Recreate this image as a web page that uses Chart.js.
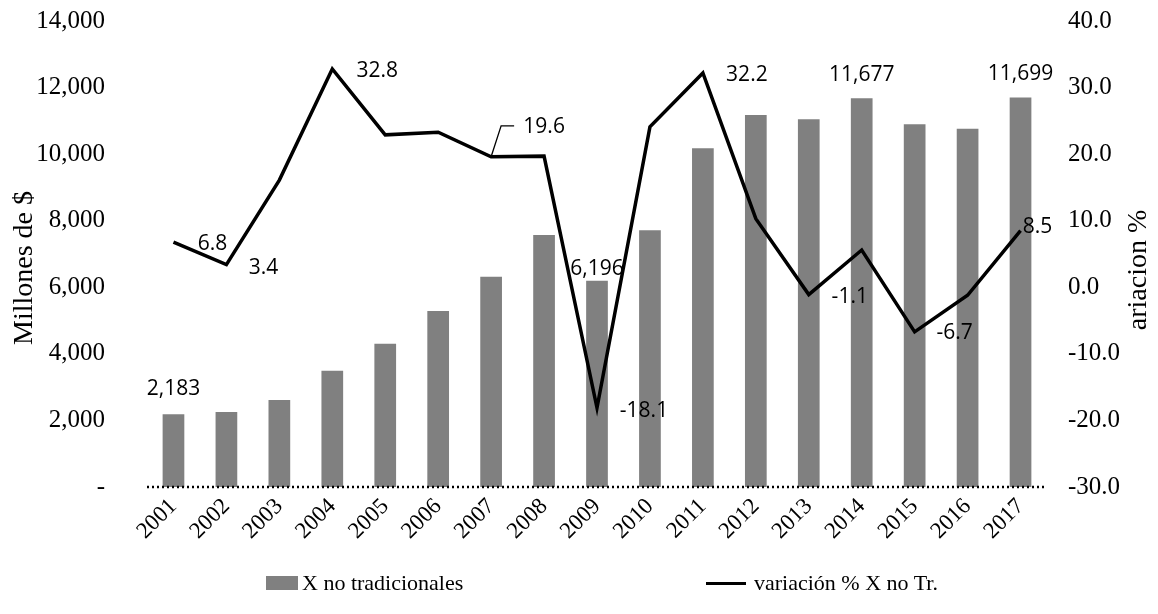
<!DOCTYPE html>
<html>
<head>
<meta charset="utf-8">
<script src="https://cdn.jsdelivr.net/npm/chart.js@4.4.1/dist/chart.umd.min.js"></script>
<style>
  body { margin: 0; background: #fff; }
  #wrap { position: relative; width: 1158px; height: 614px; }
  .leg { position: absolute; top: 570px; height: 26px; display: flex; align-items: center;
         font-family: "Liberation Serif", "Times New Roman", serif; font-size: 22px; color: #000; white-space: nowrap; }
  .box { width: 32px; height: 14px; background: #808080; margin-right: 4px; }
  .ln { width: 40px; height: 3px; background: #000; margin-right: 8px; }
</style>
</head>
<body>
<div id="wrap">
  <canvas id="chart" width="1158" height="614"></canvas>
  <div class="leg" style="left:266px"><span class="box"></span>X no tradicionales</div>
  <div class="leg" style="left:706px"><span class="ln"></span>variación % X no Tr.</div>
</div>
<script>
const years = ["2001","2002","2003","2004","2005","2006","2007","2008","2009",
               "2010","2011","2012","2013","2014","2015","2016","2017"];
const exportsNT = [2183, 2250, 2610, 3490, 4300, 5290, 6320, 7570, 6196,
                   7710, 10180, 11175, 11045, 11677, 10900, 10760, 11699];
const variation = [6.8, 3.4, 16.1, 32.8, 22.9, 23.3, 19.6, 19.7, -18.1,
                   24.1, 32.2, 10.3, -1.1, 5.6, -6.7, -1.2, 8.5];

// which points carry a value label
const barLabelIdx = [0, 8, 13, 16];
const lineLabelIdx = [0, 1, 3, 6, 8, 10, 12, 14, 16];

// label placement (pixels from the mark)
const barLabelOff = [[0, -25], [0, -12], [0, -23], [0, -24]];
const lineLabelOff = [[39, 2], [37, 3], [45, 2], [53, -30], [47, 3], [44, 2], [41, 2], [40, 1], [17, -4]];

const serif = '"Liberation Serif", "Times New Roman", serif';

const labelPlugin = {
    id: "valueLabels",
    afterDatasetsDraw(chart) {
        const ctx = chart.ctx;
        const area = chart.chartArea;
        const bars = chart.getDatasetMeta(0).data;
        const pts = chart.getDatasetMeta(1).data;

        ctx.save();

        // dotted zero line
        ctx.strokeStyle = "#000";
        ctx.lineWidth = 2.5;
        ctx.setLineDash([2, 3]);
        ctx.beginPath();
        ctx.moveTo(area.left, area.bottom);
        ctx.lineTo(area.right, area.bottom);
        ctx.stroke();
        ctx.setLineDash([]);

        ctx.font = '21px "Open Sans"';
        ctx.fillStyle = "#000";
        ctx.textAlign = "center";
        ctx.textBaseline = "middle";

        barLabelIdx.forEach((i, k) => {
            const el = bars[i];
            ctx.fillText(exportsNT[i].toLocaleString("en-US"), el.x + barLabelOff[k][0], el.y + barLabelOff[k][1]);
        });

        lineLabelIdx.forEach((i, k) => {
            const el = pts[i];
            ctx.fillText(variation[i].toFixed(1), el.x + lineLabelOff[k][0], el.y + lineLabelOff[k][1]);
        });

        // leader line for 19.6
        const p = pts[6];
        ctx.lineWidth = 1.3;
        ctx.beginPath();
        ctx.moveTo(p.x, p.y);
        ctx.lineTo(p.x + 10, p.y - 31);
        ctx.lineTo(p.x + 23, p.y - 31);
        ctx.stroke();

        // axis titles, both read bottom to top
        ctx.font = "28px " + serif;
        ctx.save();
        ctx.translate(25, 268);
        ctx.rotate(-Math.PI / 2);
        ctx.fillText("Millones de $", 0, 0);
        ctx.restore();
        ctx.save();
        ctx.translate(1139, 270);
        ctx.rotate(-Math.PI / 2);
        ctx.fillText("ariacion %", 0, 0);
        ctx.restore();

        ctx.restore();
    }
};

new Chart(document.getElementById("chart"), {
    data: {
        labels: years,
        datasets: [
            {
                type: "bar",
                label: "X no tradicionales",
                data: exportsNT,
                backgroundColor: "#808080",
                categoryPercentage: 1,
                barPercentage: 0.41,
                yAxisID: "y",
                order: 2
            },
            {
                type: "line",
                label: "variación % X no Tr.",
                data: variation,
                borderColor: "#000",
                borderWidth: 3.5,
                pointRadius: 0,
                tension: 0,
                yAxisID: "y1",
                order: 1
            }
        ]
    },
    options: {
        responsive: false,
        animation: false,
        layout: { padding: { top: 21, left: 0, right: 0, bottom: 0 } },
        plugins: {
            legend: { display: false },
            tooltip: { enabled: false }
        },
        scales: {
            x: {
                grid: { display: false, drawTicks: false },
                border: { display: false },
                ticks: {
                    color: "#000",
                    font: { family: serif, size: 23 },
                    maxRotation: 45,
                    minRotation: 45,
                    padding: 6
                },
                afterFit: s => { s.height = 127; }
            },
            y: {
                position: "left",
                min: 0,
                max: 14000,
                grid: { display: false, drawTicks: true, tickLength: 42 },
                border: { display: false },
                ticks: {
                    stepSize: 2000,
                    color: "#000",
                    font: { family: serif, size: 25 },
                    padding: 0,
                    callback: v => v === 0 ? "-" : v.toLocaleString("en-US")
                },
                afterFit: s => { s.width = 147; }
            },
            y1: {
                position: "right",
                min: -30,
                max: 40,
                grid: { display: false, drawTicks: true, tickLength: 21 },
                border: { display: false },
                ticks: {
                    stepSize: 10,
                    color: "#000",
                    font: { family: serif, size: 25 },
                    padding: 0,
                    callback: v => v.toFixed(1)
                },
                afterFit: s => { s.width = 111; }
            }
        }
    },
    plugins: [labelPlugin]
});
</script>
</body>
</html>
